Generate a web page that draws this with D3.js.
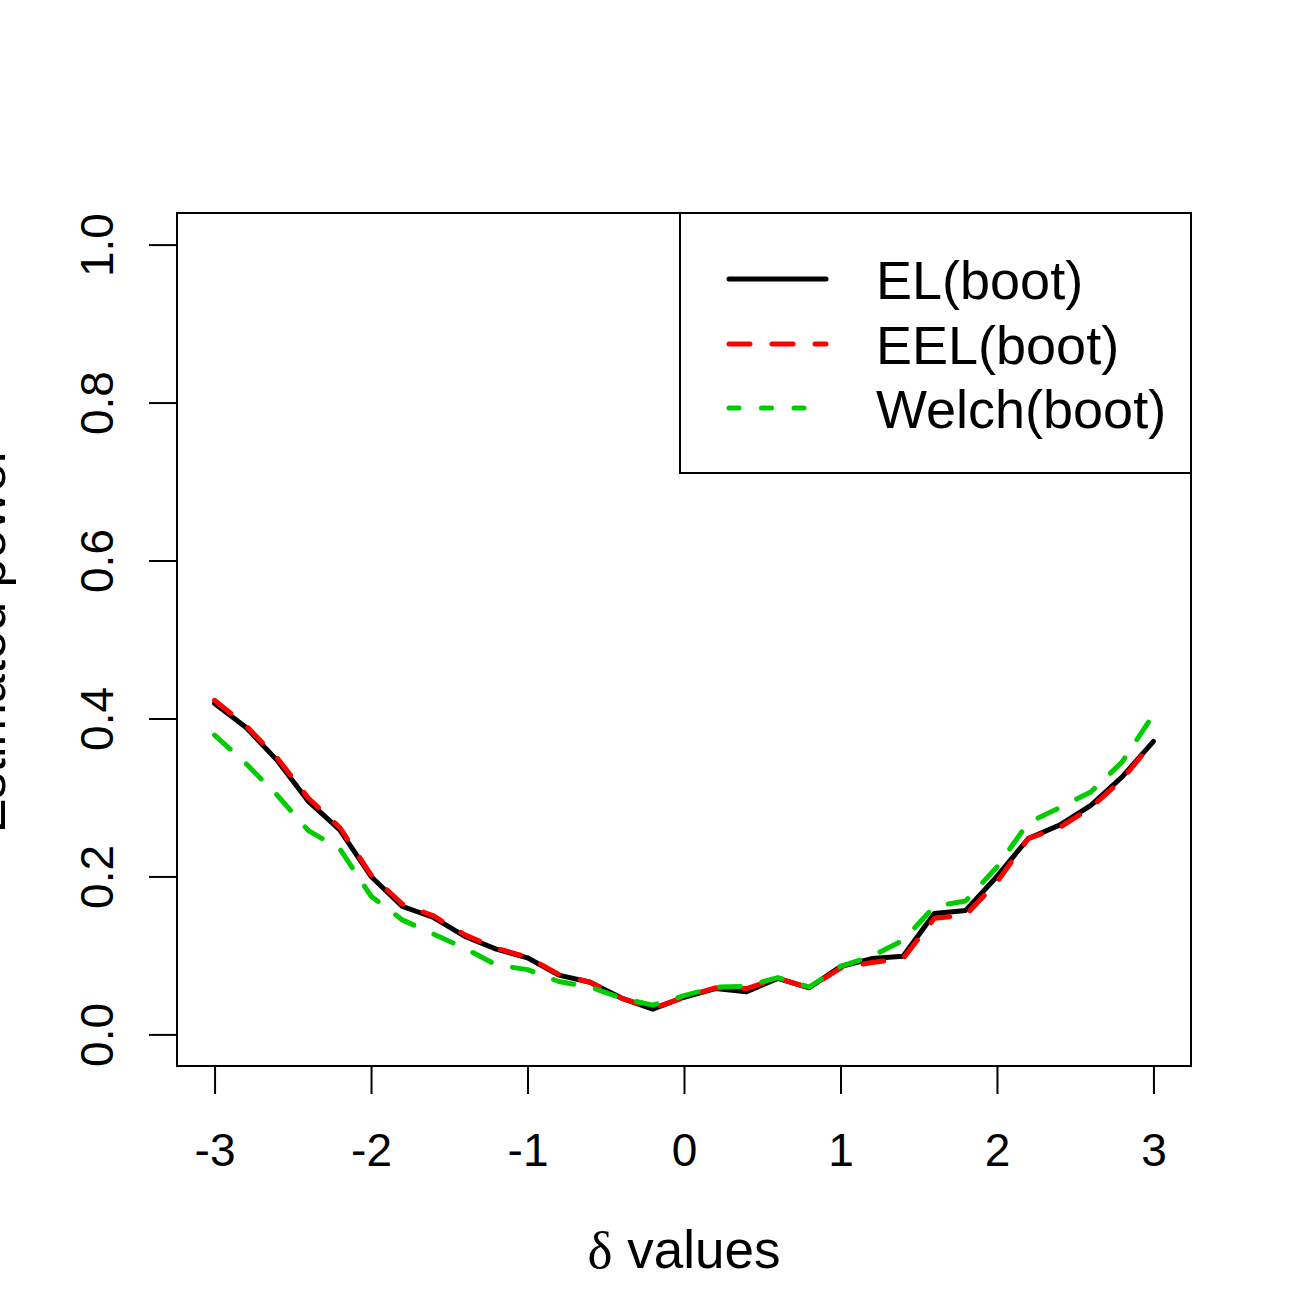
<!DOCTYPE html>
<html>
<head>
<meta charset="utf-8">
<script src="https://cdn.jsdelivr.net/npm/d3@7/dist/d3.min.js"></script>
<style>
  html, body { margin: 0; padding: 0; background: #fff; }
  svg { display: block; }
  text { font-family: "Liberation Sans", Arial, sans-serif; fill: #000; }
</style>
</head>
<body>
<svg id="chart" width="1306" height="1299"></svg>
<script>
// ---- data ----
const delta = [-3, -2.8, -2.6, -2.4, -2.2, -2, -1.8, -1.6, -1.4, -1.2, -1, -0.8, -0.6, -0.4, -0.2,
               0, 0.2, 0.4, 0.6, 0.8, 1, 1.2, 1.4, 1.6, 1.8, 2, 2.2, 2.4, 2.6, 2.8, 3];
const elBoot = [0.419, 0.389, 0.347, 0.295, 0.259, 0.200, 0.162, 0.148, 0.124, 0.108, 0.097,
                0.075, 0.066, 0.046, 0.032, 0.047, 0.058, 0.054, 0.071, 0.059, 0.086,
                0.096, 0.099, 0.153, 0.157, 0.200, 0.248, 0.265, 0.290, 0.326, 0.371];
const eelBoot = [0.423, 0.391, 0.350, 0.299, 0.262, 0.202, 0.165, 0.150, 0.126, 0.109, 0.098,
                 0.076, 0.066, 0.046, 0.033, 0.047, 0.059, 0.058, 0.071, 0.059, 0.084,
                 0.091, 0.096, 0.147, 0.151, 0.193, 0.248, 0.262, 0.287, 0.323, 0.371];
const welchBoot = [0.379, 0.343, 0.303, 0.258, 0.235, 0.175, 0.145, 0.127, 0.109, 0.088, 0.082,
                   0.067, 0.060, 0.046, 0.037, 0.049, 0.060, 0.061, 0.072, 0.060, 0.086,
                   0.099, 0.119, 0.162, 0.169, 0.212, 0.268, 0.287, 0.307, 0.345, 0.405];
const seriesNames = ["EL(boot)", "EEL(boot)", "Welch(boot)"];
const xTicks = [-3, -2, -1, 0, 1, 2, 3];
const yTicks = [0, 0.2, 0.4, 0.6, 0.8, 1.0];
const yTickLabels = ["0.0", "0.2", "0.4", "0.6", "0.8", "1.0"];

// ---- styles ----
const colors = ["#000000", "#FF0000", "#00CD00"];
const plotDash = [null, "21,22", "21,22"];
const legendDash = [null, "21,22", "10,22.5"];
const lw = 5;

const svg = d3.select("#chart");
const L = 177, R = 1191, T = 213, B = 1066;

const x = d3.scaleLinear().domain([-3.24, 3.24]).range([L, R]);
const y = d3.scaleLinear().domain([-0.04, 1.04]).range([B, T]);

// lines
const line = d3.line().x((d, i) => x(delta[i])).y(d => y(d));
const allSeries = [elBoot, eelBoot, welchBoot];
allSeries.forEach((s, i) => {
  svg.append("path")
    .datum(s)
    .attr("d", line)
    .attr("fill", "none")
    .attr("stroke", colors[i])
    .attr("stroke-width", lw)
    .attr("stroke-linejoin", "round")
    .attr("stroke-linecap", "round")
    .attr("stroke-dasharray", plotDash[i]);
});

// box
svg.append("rect")
  .attr("x", L).attr("y", T).attr("width", R - L).attr("height", B - T)
  .attr("fill", "none").attr("stroke", "#000").attr("stroke-width", 2);

// x axis
const gx = svg.append("g")
  .attr("transform", `translate(0,${B})`)
  .call(d3.axisBottom(x).tickValues(xTicks).tickSize(28).tickSizeOuter(0)
        .tickFormat(d => d3.format("d")(d).replace("−", "-")));
gx.select(".domain").attr("d", `M${x(-3)},0H${x(3)}`).attr("stroke-width", 2);
gx.selectAll(".tick line").attr("stroke-width", 2);
gx.selectAll(".tick text")
  .attr("y", 100).attr("dy", null)
  .style("font-size", "46px")
  .style("font-family", "'Liberation Sans', Arial, sans-serif");

// y axis
const gy = svg.append("g")
  .attr("transform", `translate(${L},0)`)
  .call(d3.axisLeft(y).tickValues(yTicks).tickSize(28).tickSizeOuter(0)
        .tickFormat((d, i) => yTickLabels[i]));
gy.select(".domain").attr("d", `M0,${y(0)}V${y(1)}`).attr("stroke-width", 2);
gy.selectAll(".tick line").attr("stroke-width", 2);
gy.selectAll(".tick text")
  .attr("x", null).attr("dy", null)
  .attr("text-anchor", "middle")
  .attr("transform", "translate(-64,0) rotate(-90)")
  .style("font-size", "46px")
  .style("font-family", "'Liberation Sans', Arial, sans-serif");

// axis titles
const xt = svg.append("text")
  .attr("x", x(0)).attr("y", 1268)
  .attr("text-anchor", "middle")
  .style("font-size", "53px");
xt.append("tspan").style("font-family", "'Liberation Serif', 'DejaVu Serif', serif").text("δ");
xt.append("tspan").text(" values");

svg.append("text")
  .attr("transform", `translate(5,${(T + B) / 2}) rotate(-90)`)
  .attr("text-anchor", "middle")
  .style("font-size", "52px")
  .text("Estimated power");

// legend
const lg = svg.append("g");
lg.append("rect")
  .attr("x", 680).attr("y", T).attr("width", R - 680).attr("height", 473 - T)
  .attr("fill", "#fff").attr("stroke", "#000").attr("stroke-width", 2);
const legY = [279, 344, 408];
seriesNames.forEach((name, i) => {
  lg.append("line")
    .attr("x1", 729).attr("x2", 826)
    .attr("y1", legY[i]).attr("y2", legY[i])
    .attr("stroke", colors[i]).attr("stroke-width", lw)
    .attr("stroke-linecap", "round")
    .attr("stroke-dasharray", legendDash[i]);
  lg.append("text")
    .attr("x", 876).attr("y", legY[i] + 20)
    .style("font-size", "54px")
    .text(name);
});
</script>
</body>
</html>
